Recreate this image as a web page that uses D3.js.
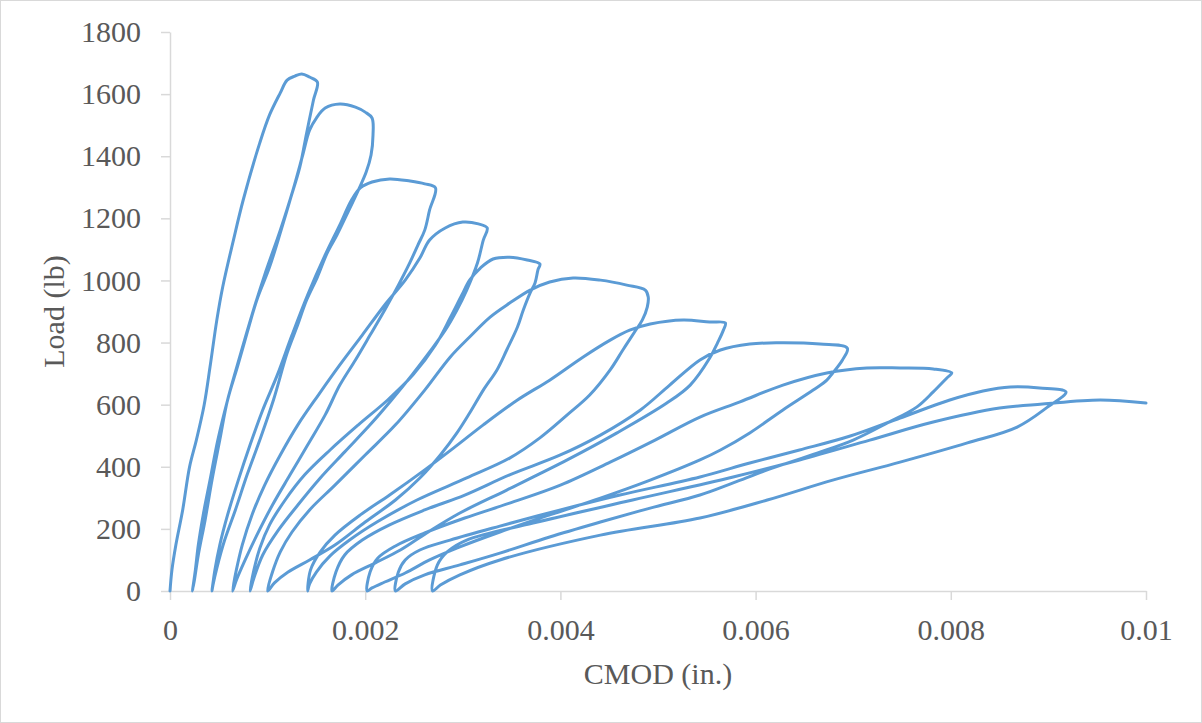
<!DOCTYPE html>
<html>
<head>
<meta charset="UTF-8" />
<title>Load vs CMOD</title>
<script src="https://d3js.org/d3.v7.min.js"></script>
<style>
  body { margin: 0; background: #fff; }
  svg { display: block; }
  svg text { font-family: "Liberation Serif", "Times New Roman", serif; }
  .axis text { fill: #595959; font-size: 30px; }
  .axis path, .axis line { stroke: #d9d9d9; stroke-width: 1.5; }
  .title { fill: #595959; font-size: 30px; }
</style>
</head>
<body>
<div id="chart"></div>
<script>
// [CMOD (in.), Load (lb)], one array per load/unload cycle
const loop1 = [
  [0, 0], [0.00002, 68], [0.00006, 148], [0.00013, 261], [0.00020, 399], [0.00027, 486],
  [0.00035, 599], [0.00041, 721], [0.00048, 873], [0.00054, 979], [0.00065, 1130],
  [0.00075, 1259], [0.00092, 1443], [0.00102, 1533], [0.00113, 1604], [0.00120, 1645],
  [0.00128, 1658], [0.00135, 1665], [0.00143, 1655], [0.00151, 1639],
  [0.00147, 1581], [0.00140, 1475], [0.00133, 1365], [0.00123, 1259], [0.00113, 1153],
  [0.00102, 1043], [0.00089, 937], [0.00079, 831], [0.00069, 721], [0.00059, 615],
  [0.00051, 486], [0.00043, 357], [0.00036, 229], [0.00029, 116], [0.00025, 35], [0.00023, 0]
];
const loop2 = [
  [0.00026, 68], [0.00029, 148], [0.00034, 245], [0.00041, 357], [0.00049, 486],
  [0.00059, 615], [0.00072, 760], [0.00084, 889], [0.00097, 1018], [0.00113, 1162],
  [0.00126, 1291], [0.00136, 1404], [0.00143, 1484], [0.00150, 1523], [0.00159, 1555],
  [0.00174, 1568], [0.00190, 1558], [0.00200, 1542], [0.00207, 1523],
  [0.00208, 1468], [0.00206, 1404], [0.00201, 1349], [0.00193, 1291], [0.00181, 1211],
  [0.00171, 1146], [0.00161, 1088], [0.00151, 1011], [0.00140, 937], [0.00130, 850],
  [0.00120, 766], [0.00106, 615], [0.00092, 486], [0.00079, 374], [0.00067, 261],
  [0.00056, 164], [0.00048, 74], [0.00044, 19], [0.00043, 0]
];
const loop3 = [
  [0.00046, 68], [0.00051, 148], [0.00059, 245], [0.00070, 357], [0.00082, 470],
  [0.00095, 583], [0.00110, 696], [0.00125, 824], [0.00141, 953], [0.00159, 1082],
  [0.00174, 1179], [0.00186, 1259], [0.00195, 1298], [0.00207, 1317], [0.00225, 1327],
  [0.00246, 1320], [0.00261, 1311], [0.00272, 1298],
  [0.00266, 1227], [0.00261, 1162], [0.00254, 1114], [0.00246, 1059], [0.00234, 985],
  [0.00220, 905], [0.00205, 824], [0.00190, 744], [0.00174, 663], [0.00159, 567],
  [0.00141, 470], [0.00123, 374], [0.00105, 277], [0.00089, 180], [0.00077, 100],
  [0.00068, 35], [0.00064, 0]
];
const loop4 = [
  [0.00068, 68], [0.00074, 148], [0.00084, 245], [0.00097, 341], [0.00113, 438],
  [0.00131, 535], [0.00152, 631], [0.00174, 728], [0.00197, 824], [0.00220, 921],
  [0.00241, 1001], [0.00256, 1072], [0.00266, 1130], [0.00282, 1169], [0.00300, 1188],
  [0.00316, 1182], [0.00325, 1169],
  [0.00321, 1130], [0.00315, 1056], [0.00304, 969], [0.00294, 905], [0.00282, 840],
  [0.00266, 770], [0.00248, 696], [0.00227, 615], [0.00205, 535], [0.00179, 448],
  [0.00154, 364], [0.00131, 277], [0.00111, 196], [0.00095, 116], [0.00086, 42], [0.00082, 0]
];
const loop5 = [
  [0.00086, 68], [0.00092, 138], [0.00102, 213], [0.00118, 293], [0.00138, 374],
  [0.00164, 454], [0.00193, 535], [0.00223, 615], [0.00249, 696], [0.00272, 792],
  [0.00287, 879], [0.00299, 953], [0.00307, 1001], [0.00318, 1040], [0.00331, 1069],
  [0.00348, 1075], [0.00366, 1066], [0.00379, 1053],
  [0.00377, 1034], [0.00374, 992], [0.00369, 960], [0.00362, 905], [0.00356, 850],
  [0.00345, 776], [0.00335, 712], [0.00321, 647], [0.00307, 573], [0.00294, 509],
  [0.00277, 438], [0.00256, 364], [0.00231, 293], [0.00200, 222], [0.00169, 148],
  [0.00143, 100], [0.00121, 61], [0.00107, 26], [0.00100, 0]
];
const loop6 = [
  [0.00105, 61], [0.00113, 126], [0.00125, 190], [0.00143, 261], [0.00169, 341],
  [0.00200, 438], [0.00231, 535], [0.00261, 647], [0.00287, 753], [0.00307, 818],
  [0.00328, 882], [0.00348, 927], [0.00369, 969], [0.00389, 995], [0.00413, 1008],
  [0.00441, 1001], [0.00468, 985], [0.00487, 969], [0.00490, 947],
  [0.00489, 914], [0.00484, 873], [0.00476, 834], [0.00464, 776], [0.00451, 712],
  [0.00430, 631], [0.00407, 567], [0.00379, 493], [0.00348, 428], [0.00304, 364],
  [0.00253, 293], [0.00212, 222], [0.00184, 164], [0.00164, 113], [0.00150, 61],
  [0.00143, 23], [0.00141, 0]
];
const loop7 = [
  [0.00144, 68], [0.00154, 126], [0.00169, 180], [0.00195, 245], [0.00225, 309],
  [0.00261, 390], [0.00292, 464], [0.00321, 535], [0.00356, 615], [0.00389, 679],
  [0.00423, 753], [0.00451, 808], [0.00471, 840], [0.00492, 860], [0.00526, 873],
  [0.00553, 866], [0.00569, 863],
  [0.00567, 840], [0.00561, 799], [0.00553, 750], [0.00533, 663], [0.00509, 605],
  [0.00458, 509], [0.00407, 422], [0.00345, 325], [0.00297, 251], [0.00263, 187],
  [0.00236, 132], [0.00210, 90], [0.00186, 52], [0.00172, 19], [0.00166, 0]
];
const loop8 = [
  [0.00170, 61], [0.00179, 116], [0.00197, 164], [0.00225, 213], [0.00261, 261],
  [0.00302, 309], [0.00348, 374], [0.00400, 438], [0.00441, 502], [0.00482, 583],
  [0.00512, 663], [0.00543, 744], [0.00564, 776], [0.00594, 795], [0.00622, 799],
  [0.00666, 795], [0.00694, 782],
  [0.00689, 744], [0.00679, 702], [0.00673, 679], [0.00659, 647], [0.00628, 583],
  [0.00594, 509], [0.00564, 454], [0.00543, 422], [0.00492, 357], [0.00441, 299],
  [0.00389, 245], [0.00338, 190], [0.00297, 142], [0.00266, 100], [0.00241, 58],
  [0.00220, 29], [0.00207, 10], [0.00202, 0]
];
const loop9 = [
  [0.00205, 61], [0.00213, 106], [0.00231, 145], [0.00261, 187], [0.00302, 235],
  [0.00348, 283], [0.00400, 341], [0.00451, 415], [0.00497, 486], [0.00543, 560],
  [0.00584, 609], [0.00628, 663], [0.00673, 702], [0.00714, 718], [0.00748, 718],
  [0.00782, 715], [0.00801, 702],
  [0.00796, 686], [0.00782, 641], [0.00765, 592], [0.00735, 541], [0.00700, 486],
  [0.00663, 444], [0.00612, 390], [0.00577, 348], [0.00543, 309], [0.00492, 267],
  [0.00441, 222], [0.00389, 174], [0.00338, 122], [0.00297, 84], [0.00261, 52],
  [0.00241, 23], [0.00231, 0]
];
const loop10 = [
  [0.00234, 61], [0.00241, 100], [0.00256, 132], [0.00287, 164], [0.00338, 209],
  [0.00400, 261], [0.00461, 309], [0.00543, 367], [0.00594, 412], [0.00645, 454],
  [0.00697, 499], [0.00748, 557], [0.00799, 615], [0.00833, 644], [0.00861, 657],
  [0.00891, 654], [0.00918, 641],
  [0.00899, 592], [0.00868, 528], [0.00817, 477], [0.00748, 415], [0.00679, 357],
  [0.00612, 293], [0.00543, 235], [0.00441, 180], [0.00338, 100], [0.00297, 52],
  [0.00277, 19], [0.00269, 0]
];
const loop11 = [
  [0.00274, 84], [0.00284, 126], [0.00304, 164], [0.00372, 219], [0.00474, 293],
  [0.00577, 367], [0.00645, 422], [0.00717, 486], [0.00782, 544], [0.00850, 589],
  [0.00894, 602], [0.00953, 615], [0.01000, 605]
];

const xTicks = [0, 0.002, 0.004, 0.006, 0.008, 0.01];
const yTicks = [0, 200, 400, 600, 800, 1000, 1200, 1400, 1600, 1800];
const xTickLabels = ["0", "0.002", "0.004", "0.006", "0.008", "0.01"];

const W = 1202, H = 723;
const margin = { top: 32, right: 56, bottom: 132, left: 170 };

const svg = d3.select("#chart").append("svg")
  .attr("width", W)
  .attr("height", H);

// outer chart frame
svg.append("rect")
  .attr("x", 0.5).attr("y", 0.5)
  .attr("width", W - 1).attr("height", H - 1)
  .attr("fill", "#fff")
  .attr("stroke", "#d9d9d9");

const x = d3.scaleLinear().domain([0, 0.01]).range([margin.left, W - margin.right]);
const y = d3.scaleLinear().domain([0, 1800]).range([H - margin.bottom, margin.top]);

svg.append("g")
  .attr("class", "axis")
  .attr("transform", `translate(0,${H - margin.bottom})`)
  .call(d3.axisBottom(x).tickValues(xTicks)
    .tickFormat((d, i) => xTickLabels[i])
    .tickSize(9).tickSizeOuter(0).tickPadding(19));

svg.append("g")
  .attr("class", "axis")
  .attr("transform", `translate(${margin.left},0)`)
  .call(d3.axisLeft(y).tickValues(yTicks).tickFormat(d3.format("d"))
    .tickSize(9).tickSizeOuter(0).tickPadding(20));

svg.selectAll(".axis").attr("font-family", null).attr("font-size", null);

const line = d3.line()
  .x(d => x(d[0]))
  .y(d => y(d[1]))
  .curve(d3.curveCatmullRom.alpha(0.5));

const allPoints = [].concat(loop1, loop2, loop3, loop4, loop5, loop6,
  loop7, loop8, loop9, loop10, loop11);

svg.append("path")
  .datum(allPoints)
  .attr("fill", "none")
  .attr("stroke", "#5b9bd5")
  .attr("stroke-width", 3)
  .attr("stroke-linejoin", "round")
  .attr("stroke-linecap", "round")
  .attr("d", line);

svg.append("text")
  .attr("class", "title")
  .attr("text-anchor", "middle")
  .attr("x", (margin.left + W - margin.right) / 2)
  .attr("y", 684)
  .text("CMOD (in.)");

svg.append("text")
  .attr("class", "title")
  .attr("text-anchor", "middle")
  .attr("transform", `translate(64,${(margin.top + H - margin.bottom) / 2}) rotate(-90)`)
  .text("Load (lb)");
</script>
</body>
</html>
